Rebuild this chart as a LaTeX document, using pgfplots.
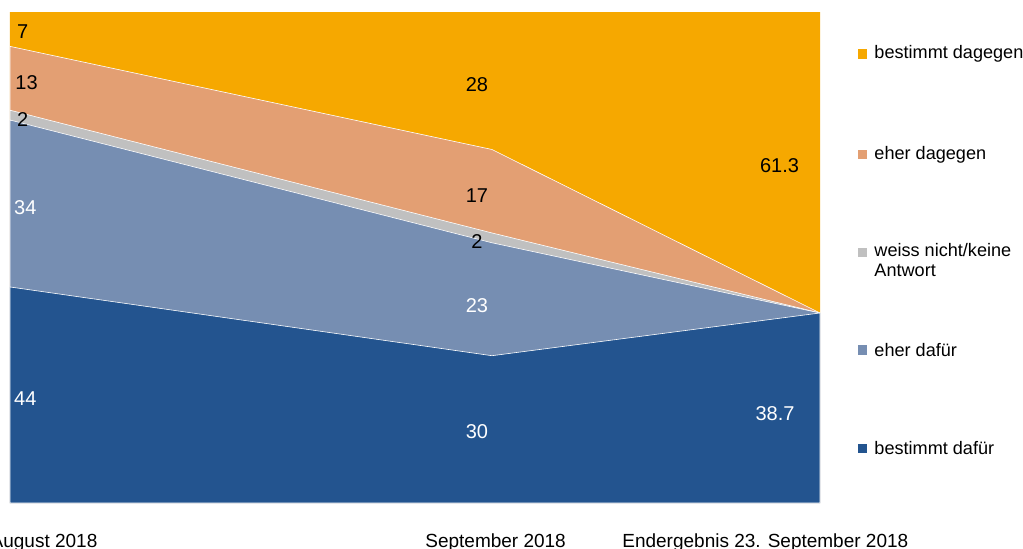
\documentclass[border=0pt]{standalone}
\usepackage{pgfplots}
\pgfplotsset{compat=1.18}
\usepackage{fontspec}
\setmainfont{Liberation Sans}
\definecolor{bdafuer}{RGB}{35,84,143}
\definecolor{edafuer}{RGB}{118,142,178}
\definecolor{weiss}{RGB}{192,192,192}
\definecolor{edagegen}{RGB}{227,159,115}
\definecolor{bdagegen}{RGB}{246,168,0}
\begin{document}
\begin{tikzpicture}
\begin{axis}[
name=ax,
at={(0,0)}, anchor=south west,
scale only axis, width=405pt, height=245.5pt,
xmin=0, xmax=2, ymin=0, ymax=100,
hide axis,
clip=false,
every node/.style={font=\fontsize{9.2}{11}\selectfont},
]
% cumulative shares, drawn from the top band down
\addplot[fill=bdagegen, draw=none] coordinates {(0,0) (0,100) (1.19,100) (2,100) (2,0)} -- cycle;
\addplot[fill=edagegen, draw=white, line width=0.3pt] coordinates {(0,0) (0,93) (1.19,72) (2,38.7) (2,0)} -- cycle;
\addplot[fill=weiss, draw=white, line width=0.3pt] coordinates {(0,0) (0,80) (1.19,55) (2,38.7) (2,0)} -- cycle;
\addplot[fill=edafuer, draw=white, line width=0.3pt] coordinates {(0,0) (0,78) (1.19,53) (2,38.7) (2,0)} -- cycle;
\addplot[fill=bdafuer, draw=white, line width=0.3pt] coordinates {(0,0) (0,44) (1.19,30) (2,38.7) (2,0)} -- cycle;

% data labels
\node[anchor=west, text=white] at (axis cs:-0.007,21.2) {44};
\node[anchor=west, text=white] at (axis cs:-0.007,60.2) {34};
\node[anchor=west] at (axis cs:0.0,78.2) {2};
\node[anchor=west] at (axis cs:-0.004,85.7) {13};
\node[anchor=west] at (axis cs:0.0,96.1) {7};
\node[text=white] at (axis cs:1.153,14.6) {30};
\node[text=white] at (axis cs:1.153,40.2) {23};
\node at (axis cs:1.153,53.3) {2};
\node at (axis cs:1.153,62.6) {17};
\node at (axis cs:1.153,85.2) {28};
\node[text=white] at (axis cs:1.889,18.3) {38.7};
\node at (axis cs:1.90,68.8) {61.3};

% x labels
\node[anchor=base, font=\fontsize{9.5}{11}\selectfont] at (axis cs:0.084,-9.0) {August 2018};
\node[anchor=base, font=\fontsize{9.5}{11}\selectfont] at (axis cs:1.199,-9.0) {September 2018};
\node[anchor=base, font=\fontsize{9.5}{11}\selectfont] at (axis cs:1.865,-9.0) {Endergebnis 23. September 2018};

% legend
\fill[bdagegen] (axis cs:2.094,90.5) rectangle (axis cs:2.117,92.4);
\node[anchor=west, font=\fontsize{9.05}{11}\selectfont] at (axis cs:2.117,91.45) {bestimmt dagegen};
\fill[edagegen] (axis cs:2.094,70.0) rectangle (axis cs:2.117,71.9);
\node[anchor=west, font=\fontsize{9.05}{11}\selectfont] at (axis cs:2.117,70.95) {eher dagegen};
\fill[weiss] (axis cs:2.094,50.1) rectangle (axis cs:2.117,52.0);
\node[anchor=north west, align=left, inner ysep=0pt, font=\fontsize{9.05}{10.2}\selectfont] at (axis cs:2.117,53.0) {weiss nicht/keine\\Antwort};
\fill[edafuer] (axis cs:2.094,30.2) rectangle (axis cs:2.117,32.1);
\node[anchor=west, font=\fontsize{9.05}{11}\selectfont] at (axis cs:2.117,31.15) {eher dafür};
\fill[bdafuer] (axis cs:2.094,10.2) rectangle (axis cs:2.117,12.1);
\node[anchor=west, font=\fontsize{9.05}{11}\selectfont] at (axis cs:2.117,11.15) {bestimmt dafür};
\end{axis}
\pgfresetboundingbox
\path[use as bounding box] ([shift={(-5pt,-22.5pt)}]ax.south west) rectangle ([shift={(101.5pt,6pt)}]ax.north east);
\end{tikzpicture}
\end{document}
